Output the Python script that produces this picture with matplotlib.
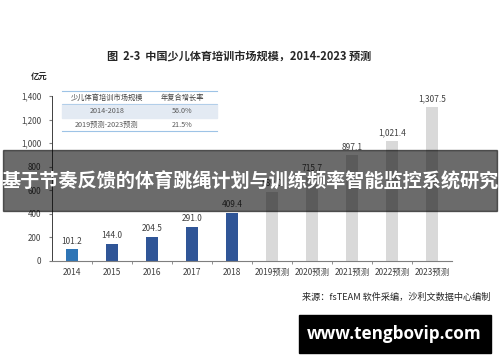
import matplotlib
matplotlib.use("Agg")
import matplotlib.pyplot as plt
from matplotlib.patches import Rectangle

plt.rcParams['font.family'] = ['Noto Sans CJK SC', 'DejaVu Sans']

years = ['2014', '2015', '2016', '2017', '2018',
         '2019预测', '2020预测', '2021预测', '2022预测', '2023预测']
# 2019 value is hidden behind the banner in the source image, estimated
values = [101.2, 144.0, 204.5, 291.0, 409.4, 589.0, 715.7, 897.1, 1021.4, 1307.5]
colors = ['#2e75b6', '#2f5597', '#2f5597', '#2f5597', '#2f5597',
          '#d9d9d9', '#d9d9d9', '#d9d9d9', '#d9d9d9', '#d9d9d9']
yticks = [0, 200, 400, 600, 800, 1000, 1200, 1400]

table_header = ['少儿体育培训市场规模', '年复合增长率']
table_rows = [['2014-2018', '56.0%'], ['2019预测-2023预测', '21.5%']]

fig = plt.figure(figsize=(5, 3.62), dpi=100)
W, H = 500, 362
ax = fig.add_axes([52 / W, 1 - 261 / H, 400 / W, 165 / H])

x = list(range(len(years)))
ax.bar(x, values, width=0.29, color=colors, zorder=2)
for xi, v in zip(x, values):
    ax.text(xi, v + 30, f'{v:,.1f}', ha='center', va='bottom', fontsize=6, color='#404040')

ax.set_xlim(-0.5, 9.5)
ax.set_ylim(0, 1400)
ax.set_yticks(yticks)
ax.set_yticklabels([f'{t:,}' for t in yticks], fontsize=5.8, color='#404040')
ax.set_xticks(x)
ax.set_xticklabels(years, fontsize=6, color='#404040')
ax.set_xticks([i + 0.5 for i in range(9)], minor=True)
ax.tick_params(axis='x', which='major', length=0, pad=5)
ax.tick_params(axis='x', which='minor', length=2.5, direction='out', color='#7f7f7f')
ax.tick_params(axis='y', length=2.5, direction='out', color='#7f7f7f', pad=5)
for s in ['top', 'right']:
    ax.spines[s].set_visible(False)
ax.spines['left'].set_color('#404040')
ax.spines['left'].set_linewidth(0.7)
ax.spines['bottom'].set_color('#7f7f7f')
ax.spines['bottom'].set_linewidth(0.8)

fig.text(239 / W, 1 - 57 / H, '图  2-3  中国少儿体育培训市场规模，2014-2023 预测',
         ha='center', va='center', fontsize=8, fontweight='bold', color='#262626')
fig.text(39 / W, 1 - 77 / H, '亿元', ha='center', va='center', fontsize=6,
         fontweight='bold', color='#262626')

# small table
tx0, tx1 = 62, 217
rows_y = [98, 111, 125]
fig.patches.append(Rectangle((tx0 / W, 1 - 118 / H), (tx1 - tx0) / W, 14 / H,
                             transform=fig.transFigure, color='#e3eaf3', zorder=1))
for yl, lw in [(91, 0.8), (104, 0.5), (131, 0.8)]:
    fig.add_artist(plt.Line2D([tx0 / W, tx1 / W], [1 - yl / H, 1 - yl / H],
                              transform=fig.transFigure, color='#9dc3e6', lw=lw))
col_x = [107, 182]
for cx, t in zip(col_x, table_header):
    fig.text(cx / W, 1 - rows_y[0] / H, t, ha='center', va='center', fontsize=5.2,
             color='#404040')
for ry, row in zip(rows_y[1:], table_rows):
    for cx, t in zip(col_x, row):
        fig.text(cx / W, 1 - ry / H, t, ha='center', va='center', fontsize=5.2,
                 color='#595959')

fig.text(490 / W, 1 - 297 / H, '来源：fsTEAM 软件采编，沙利文数据中心编制',
         ha='right', va='center', fontsize=6.6, style='italic', color='#262626')

# overlay band
fig.patches.append(Rectangle((3 / W, 1 - 211 / H), 494 / W, 61 / H,
                             transform=fig.transFigure, color='black', alpha=0.58, zorder=5))
fig.text(250 / W, 1 - 182 / H, '基于节奏反馈的体育跳绳计划与训练频率智能监控系统研究',
         ha='center', va='center', fontsize=13.8, fontweight='bold', color='white', zorder=6)

# watermark box
fig.patches.append(Rectangle((299 / W, 1 - 353 / H), 192 / W, 38 / H,
                             transform=fig.transFigure, color='black', zorder=5))
fig.text(394 / W, 1 - 334 / H, 'www.tengbovip.com', ha='center', va='center',
         fontsize=12.3, fontweight='bold', color='white', zorder=6,
         family=['Open Sans', 'DejaVu Sans'])

fig.savefig('out.png', dpi=100)
